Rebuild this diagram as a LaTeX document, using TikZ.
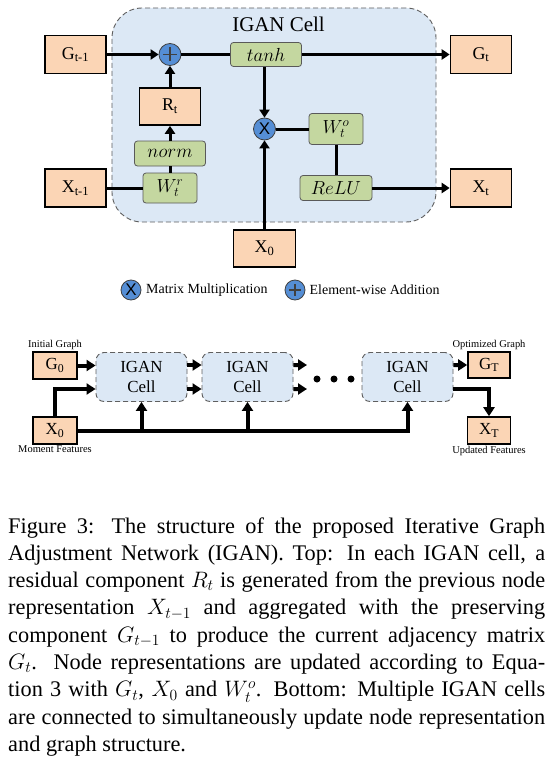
\RequirePackage{fix-cm}
\documentclass[tikz,border=0pt]{standalone}
\usepackage{fontspec}
\setmainfont{Liberation Serif}
\newfontfamily\signfont{Liberation Sans}
\usetikzlibrary{arrows.meta}
\definecolor{boxpeach}{RGB}{251,213,181}
\definecolor{opgreen}{RGB}{196,215,160}
\definecolor{opblue}{RGB}{85,142,213}
\definecolor{cellblue}{RGB}{220,232,245}
\definecolor{dashgray}{RGB}{95,95,95}
\tikzset{
  featbox/.style={draw,line width=1.6bp,fill=boxpeach,minimum width=61bp,minimum height=38bp,
    inner sep=0pt,font=\fontsize{18}{20}\selectfont},
  smallbox/.style={featbox,minimum width=44bp,minimum height=27bp,font=\fontsize{17}{20}\selectfont},
  opbox/.style={draw=black!65,line width=0.8bp,fill=opgreen,rounded corners=3bp,
    minimum height=25bp,inner sep=0pt,font=\fontsize{19}{20}\selectfont},
  opcirc/.style={circle,draw=black!75,line width=0.8bp,fill=opblue,minimum size=22bp,inner sep=0pt},
  addsign/.style={opcirc,path picture={
    \draw[line width=1.8bp] ([xshift=4bp]path picture bounding box.west) -- ([xshift=-4bp]path picture bounding box.east);
    \draw[line width=1.8bp] ([yshift=-4bp]path picture bounding box.north) -- ([yshift=4bp]path picture bounding box.south);}},
  mulsign/.style={opcirc,font=\signfont\fontsize{17}{17}\selectfont},
  cellbg/.style={draw=dashgray,dash pattern=on 5bp off 3bp,line width=0.9bp,fill=cellblue,inner sep=0pt},
  minicell/.style={cellbg,rounded corners=8bp,minimum width=91bp,minimum height=49bp,align=center,
    font=\fontsize{17}{20}\selectfont},
  link/.style={line width=3bp},
  flow/.style={link,-{Triangle[length=8bp,width=10bp]}},
  bigflow/.style={line width=4bp,-{Triangle[length=9bp,width=11bp]}},
  legendfont/.style={font=\fontsize{14}{16}\selectfont},
  tagfont/.style={font=\fontsize{10.5}{12}\selectfont,inner sep=1bp},
  dotmark/.style={circle,fill,minimum size=7bp,inner sep=0pt},
  captext/.style={inner sep=0pt,font=\fontsize{22.4}{27.4}\selectfont},
}
% one justified caption line
\newcommand{\capline}[1]{\hbox to 537bp{#1}}
\begin{document}
\begin{tikzpicture}[x=1bp,y=-1bp]
  \useasboundingbox (0,0) rectangle (553,762);
  % IGAN cell (top)
  \node[cellbg,rounded corners=30bp,minimum width=324bp,minimum height=214bp] (cell) at (274,115) {};
  \node[font=\fontsize{21}{24}\selectfont] (celltitle) at (278.5,24) {IGAN Cell};
  \node[featbox] (gprev) at (75.5,54.5) {G\textsubscript{t-1}};
  \node[featbox] (xprev) at (75.5,188) {X\textsubscript{t-1}};
  \node[featbox] (gcur) at (481,54.5) {G\textsubscript{t}};
  \node[featbox] (xcur) at (481,188) {X\textsubscript{t}};
  \node[featbox,minimum width=62bp,minimum height=37bp] (xzero) at (264.5,248.5) {X\textsubscript{0}};
  \node[featbox,minimum height=37bp] (rt) at (170,106.5) {R\textsubscript{t}};
  \node[addsign] (plus) at (170,54.5) {};
  \node[mulsign] (times) at (264.5,129) {X};
  \node[opbox,minimum width=71bp,minimum height=24bp] (tanh) at (266,54.5) {$tanh$};
  \node[opbox,minimum width=71bp] (norm) at (170,153.5) {$norm$};
  \node[opbox,minimum width=54bp,minimum height=30bp] (wr) at (170,188) {$W_t^r$};
  \node[opbox,minimum width=54bp,minimum height=31bp] (wo) at (336,129) {$W_t^o$};
  \node[opbox,minimum width=72bp] (relu) at (336,188) {$ReLU$};
  \draw[flow] (gprev) -- (plus);
  \draw[link] (plus) -- (tanh);
  \draw[flow] (tanh) -- (gcur);
  \draw[flow] (rt) -- (plus);
  \draw[flow] (norm) -- (rt);
  \draw[link] (wr) -- (norm);
  \draw[link] (xprev) -- (wr);
  \draw[flow] (tanh.south -| times) -- (times);
  \draw[flow] (xzero) -- (times);
  \draw[link] (times) -- (wo);
  \draw[link] (wo) -- (relu);
  \draw[flow] (relu) -- (xcur);
  % legend
  \node[mulsign,minimum size=20bp] (legmul) at (131,290) {X};
  \node[legendfont,anchor=west,inner sep=0pt] (legmultext) at (146,290) {Matrix Multiplication};
  \node[addsign,minimum size=20bp] (legadd) at (295,290) {};
  \node[legendfont,anchor=west,inner sep=0pt] (legaddtext) at (309.5,290) {Element-wise Addition};
  % stacked cells (bottom)
  \node[smallbox,label={[tagfont]above:Initial Graph}] (gzero) at (55,365.5) {G\textsubscript{0}};
  \node[smallbox,label={[tagfont]below:Moment Features}] (xstart) at (55,430.5) {X\textsubscript{0}};
  \node[minicell] (cellA) at (141.5,377) {IGAN\\Cell};
  \node[minicell] (cellB) at (247.5,377) {IGAN\\Cell};
  \node[minicell] (cellC) at (407.5,377) {IGAN\\Cell};
  \foreach \d [count=\i] in {317,334,351}
    \node[dotmark] (dot\i) at (\d,379) {};
  \node[smallbox,minimum width=42bp,minimum height=26bp,label={[tagfont]above:Optimized Graph}] (gend) at (489,365) {G\textsubscript{T}};
  \node[smallbox,minimum width=43bp,label={[tagfont]below:Updated Features}] (xend) at (489,430.5) {X\textsubscript{T}};
  \coordinate (outA) at (307,365);
  \coordinate (outB) at (307,389);
  \draw[bigflow] (gzero.east) -- (gzero.east -| cellA.west);
  \draw[bigflow] (xstart.north) |- ([yshift=-12bp]cellA.west);
  \draw[bigflow] ([yshift=12bp]cellA.east) -- ([yshift=12bp]cellB.west);
  \draw[bigflow] ([yshift=-12bp]cellA.east) -- ([yshift=-12bp]cellB.west);
  \draw[bigflow] ([yshift=12bp]cellB.east) -- (outA);
  \draw[bigflow] ([yshift=-12bp]cellB.east) -- (outB);
  \draw[bigflow] (xstart.east) -| (cellC.south);
  \draw[bigflow] (cellA.south |- xstart.east) -- (cellA.south);
  \draw[bigflow] (cellB.south |- xstart.east) -- (cellB.south);
  \draw[bigflow] ([yshift=12bp]cellC.east) -- (gend.west);
  \draw[bigflow] ([yshift=-12bp]cellC.east) -| (xend.north);
  % caption
  \node[captext,anchor=base west] (caption) at (8,533) {\vtop{\hsize=537bp
  \capline{Figure 3: The structure of the proposed Iterative Graph}
  \capline{Adjustment Network (IGAN). Top: In each IGAN cell, a}
  \capline{residual component $R_t$ is generated from the previous node}
  \capline{representation $X_{t-1}$ and aggregated with the preserving}
  \capline{component $G_{t-1}$ to produce the current adjacency matrix}
  \capline{$G_t$. Node representations are updated according to Equa-}
  \capline{tion 3 with $G_t$, $X_0$ and $W_t^o$. Bottom: Multiple IGAN cells}
  \capline{are connected to simultaneously update node representation}
  \hbox{and graph structure.}}};
\end{tikzpicture}
\end{document}
